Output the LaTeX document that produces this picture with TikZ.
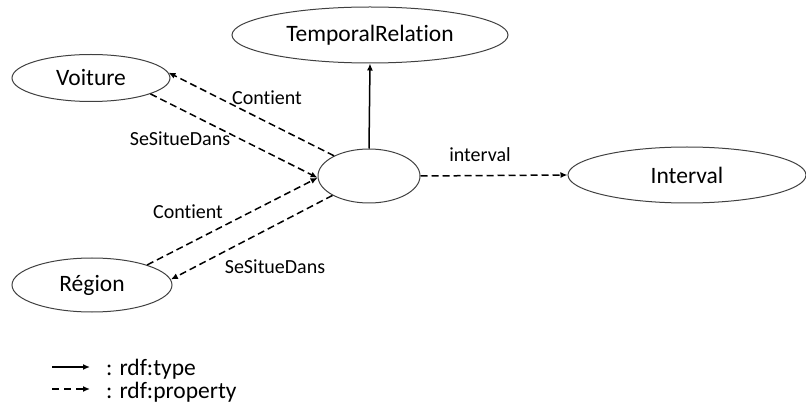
\documentclass[tikz,border=0pt]{standalone}
\usepackage{fontspec}
\setmainfont{Carlito}[Ligatures={NoCommon}]
\usetikzlibrary{shapes.geometric,arrows.meta}
\begin{document}
\begin{tikzpicture}[x=1pt,y=-1pt,
  cls/.style={ellipse,draw=black!75,line width=1pt,inner sep=0pt,font=\fontsize{23.5}{27}\selectfont},
  lbl/.style={inner sep=0pt,font=\fontsize{20}{24}\selectfont},
  leg/.style={inner sep=0pt,anchor=base west,font=\fontsize{23.5}{27}\selectfont},
  typ/.style={line width=1.5pt,-{Latex[length=7pt,width=6pt]}},
  prop/.style={line width=1.5pt,dash pattern=on 7pt off 4pt,-{Latex[length=7pt,width=6pt]}}]
\useasboundingbox (0,0) rectangle (806,414);
\node[cls,minimum width=158pt,minimum height=47pt] (voit) at (91,78) {Voiture};
\node[cls,minimum width=276pt,minimum height=56pt] (temp) at (370,35) {TemporalRelation};
\node[cls,minimum width=102pt,minimum height=54pt] (blank) at (369,176) {};
\node[cls,minimum width=238pt,minimum height=56pt] (inter) at (687,175) {Interval};
\node[cls,minimum width=160pt,minimum height=54pt] (reg) at (92,285) {Région};
% edges
\draw[typ] (blank.north) -- (temp.south);
\draw[prop] (blank.east) -- (inter.west);
\draw[prop] (blank.150) -- (voit.4);
\draw[prop] (voit.345) -- (blank.182);
\draw[prop] (reg.20) -- (blank.182);
\draw[prop] (blank.208) -- (reg.4);
% labels
\node[lbl] (l1) at (267,98) {Contient};
\node[lbl] (l2) at (180,139) {SeSitueDans};
\node[lbl] (l3) at (188,212) {Contient};
\node[lbl] (l4) at (275,267) {SeSitueDans};
\node[lbl] (l5) at (480,155) {interval};
% legend
\coordinate (a1) at (52,367);
\coordinate (b1) at (90,367);
\coordinate (a2) at (52,389);
\coordinate (b2) at (90,389);
\draw[typ] (a1) -- (b1);
\draw[prop,dash pattern=on 7pt off 5pt] (a2) -- (b2);
\node[leg] (t1) at (106,375) {: rdf:type};
\node[leg] (t2) at (106,398) {: rdf:property};
\end{tikzpicture}
\end{document}
